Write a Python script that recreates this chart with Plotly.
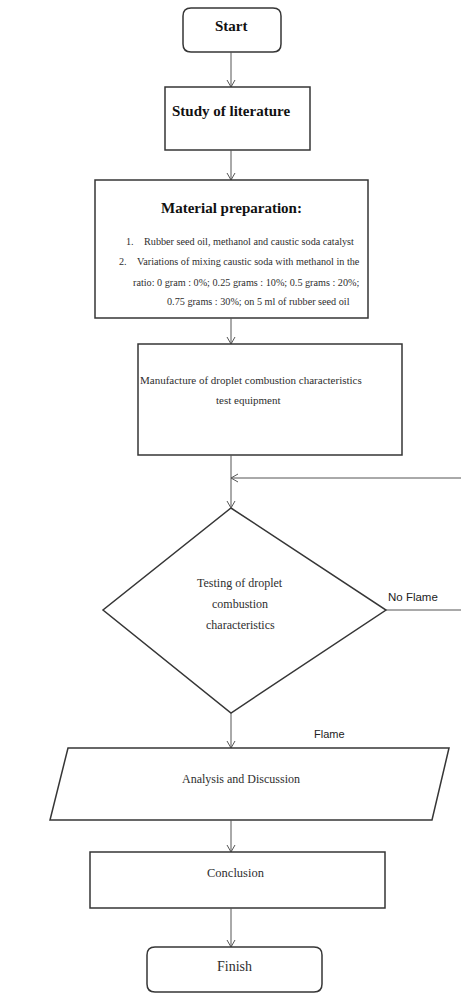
import plotly.graph_objects as go

W, H = 461, 998

# ---------------- text content ----------------
start_label = "Start"
study_label = "Study of literature"
material_title = "Material preparation:"
material_numbers = ["1.", "2."]
material_lines = [
    "Rubber seed oil, methanol and caustic soda catalyst",
    "Variations of mixing caustic soda with methanol in the",
    "ratio: 0 gram : 0%; 0.25 grams : 10%; 0.5 grams : 20%;",
    "0.75 grams : 30%; on 5 ml of rubber seed oil",
]
manufacture_lines = ["Manufacture of droplet combustion characteristics", "test equipment"]
decision_lines = ["Testing of droplet", "combustion", "characteristics"]
no_flame_label = "No Flame"
flame_label = "Flame"
analysis_label = "Analysis and Discussion"
conclusion_label = "Conclusion"
finish_label = "Finish"

# ---------------- geometry (pixels, y downward) ----------------
CX = 231
geo = {
    "start": dict(x0=183, x1=281, y0=8, y1=52),
    "study": dict(x0=165, x1=310, y0=87, y1=150),
    "material": dict(x0=95, x1=368, y0=180, y1=318),
    "manufacture": dict(x0=138, x1=402, y0=344, y1=455),
    "decision": dict(top=508, bottom=713, left=103, right=386, cy=610),
    "analysis": dict(tl=68, tr=449, bl=50, br=432, y0=748, y1=820),
    "conclusion": dict(x0=90, x1=385, y0=852, y1=908),
    "finish": dict(x0=147, x1=322, y0=947, y1=992),
}
loop_y = 478

BOX = dict(color="#363636", width=1.5)
ARR = dict(color="#555555", width=1.0)
SERIF = "Liberation Serif"
SANS = "Liberation Sans"
TXT = "#2e2e2e"
TITLE = "#111111"

shapes = []
annotations = []


def rect(g):
    shapes.append(dict(type="rect", xref="x", yref="y", x0=g["x0"], x1=g["x1"],
                       y0=g["y0"], y1=g["y1"], line=BOX, fillcolor="rgba(0,0,0,0)"))


def rrect(g, r=7):
    x0, x1, y0, y1 = g["x0"], g["x1"], g["y0"], g["y1"]
    p = (f"M {x0+r},{y0} L {x1-r},{y0} Q {x1},{y0} {x1},{y0+r} L {x1},{y1-r} "
         f"Q {x1},{y1} {x1-r},{y1} L {x0+r},{y1} Q {x0},{y1} {x0},{y1-r} "
         f"L {x0},{y0+r} Q {x0},{y0} {x0+r},{y0} Z")
    shapes.append(dict(type="path", xref="x", yref="y", path=p, line=BOX))


def line(x0, y0, x1, y1, style=ARR):
    shapes.append(dict(type="line", xref="x", yref="y", x0=x0, y0=y0, x1=x1, y1=y1, line=style))


def head_down(x, y, w=4, h=7):
    shapes.append(dict(type="path", xref="x", yref="y",
                       path=f"M {x-w},{y-h} L {x},{y} L {x+w},{y-h}", line=ARR))


def head_left(x, y, w=4, h=7):
    shapes.append(dict(type="path", xref="x", yref="y",
                       path=f"M {x+h},{y-w} L {x},{y} L {x+h},{y+w}", line=ARR))


def arrow_down(x, y0, y1):
    line(x, y0, x, y1)
    head_down(x, y1)


def text(x, y, s, size=12, bold=False, family=SERIF, color=TXT, xanchor="center"):
    if bold:
        s = f"<b>{s}</b>"
    annotations.append(dict(x=x, y=y, xref="x", yref="y", text=s, showarrow=False,
                            xanchor=xanchor, yanchor="middle",
                            font=dict(family=family, size=size, color=color)))


# Start
rrect(geo["start"], 8)
text(CX, 26, start_label, size=15, bold=True, color=TITLE)
arrow_down(CX, geo["start"]["y1"], geo["study"]["y0"])

# Study
rect(geo["study"])
text(CX, 111, study_label, size=15, bold=True, color=TITLE)
arrow_down(CX, geo["study"]["y1"], geo["material"]["y0"])

# Material
MS = 10.2
rect(geo["material"])
text(CX, 208, material_title, size=15, bold=True, color=TITLE)
text(136, 241, material_numbers[0], size=MS, xanchor="right")
text(142, 241, material_lines[0], size=MS, xanchor="left")
text(129, 261, material_numbers[1], size=MS, xanchor="right")
text(135, 261, material_lines[1], size=MS, xanchor="left")
text(246, 282, material_lines[2], size=MS)
text(258, 301, material_lines[3], size=MS)
arrow_down(CX, geo["material"]["y1"], geo["manufacture"]["y0"])

# Manufacture
rect(geo["manufacture"])
text(251, 380, manufacture_lines[0], size=11)
text(248, 400, manufacture_lines[1], size=11)

# Decision
d = geo["decision"]
shapes.append(dict(type="path", xref="x", yref="y",
                   path=(f"M {CX},{d['top']} L {d['right']},{d['cy']} L {CX},{d['bottom']} "
                         f"L {d['left']},{d['cy']} Z"), line=BOX))
arrow_down(CX, geo["manufacture"]["y1"], d["top"])
line(W, loop_y, CX, loop_y)
head_left(CX, loop_y)
line(d["right"], d["cy"], W, d["cy"])
for i, s in enumerate(decision_lines):
    text(240, 583 + 21 * i, s, size=12)
text(386, 597, no_flame_label, size=11.5, family=SANS, color="#222222", xanchor="left")

# Analysis
a = geo["analysis"]
arrow_down(CX, d["bottom"], a["y0"])
text(329, 734, flame_label, size=11, family=SANS, color="#222222")
shapes.append(dict(type="path", xref="x", yref="y",
                   path=(f"M {a['tl']},{a['y0']} L {a['tr']},{a['y0']} L {a['br']},{a['y1']} "
                         f"L {a['bl']},{a['y1']} Z"), line=BOX))
text(241, 779, analysis_label, size=12)

# Conclusion
arrow_down(CX, a["y1"], geo["conclusion"]["y0"])
rect(geo["conclusion"])
text(236, 873, conclusion_label, size=12.5)

# Finish
arrow_down(CX, geo["conclusion"]["y1"], geo["finish"]["y0"])
rrect(geo["finish"], 8)
text(234, 966, finish_label, size=14)

fig = go.Figure()
fig.update_layout(
    width=W, height=H,
    margin=dict(l=0, r=0, t=0, b=0),
    paper_bgcolor="white", plot_bgcolor="white",
    xaxis=dict(range=[0, W], visible=False, fixedrange=True),
    yaxis=dict(range=[H, 0], visible=False, fixedrange=True),
    shapes=shapes, annotations=annotations, showlegend=False,
)
fig.write_html("out.html", config={"displayModeBar": False, "staticPlot": True},
               post_script="document.body.style.margin='0';document.body.style.padding='0';")
